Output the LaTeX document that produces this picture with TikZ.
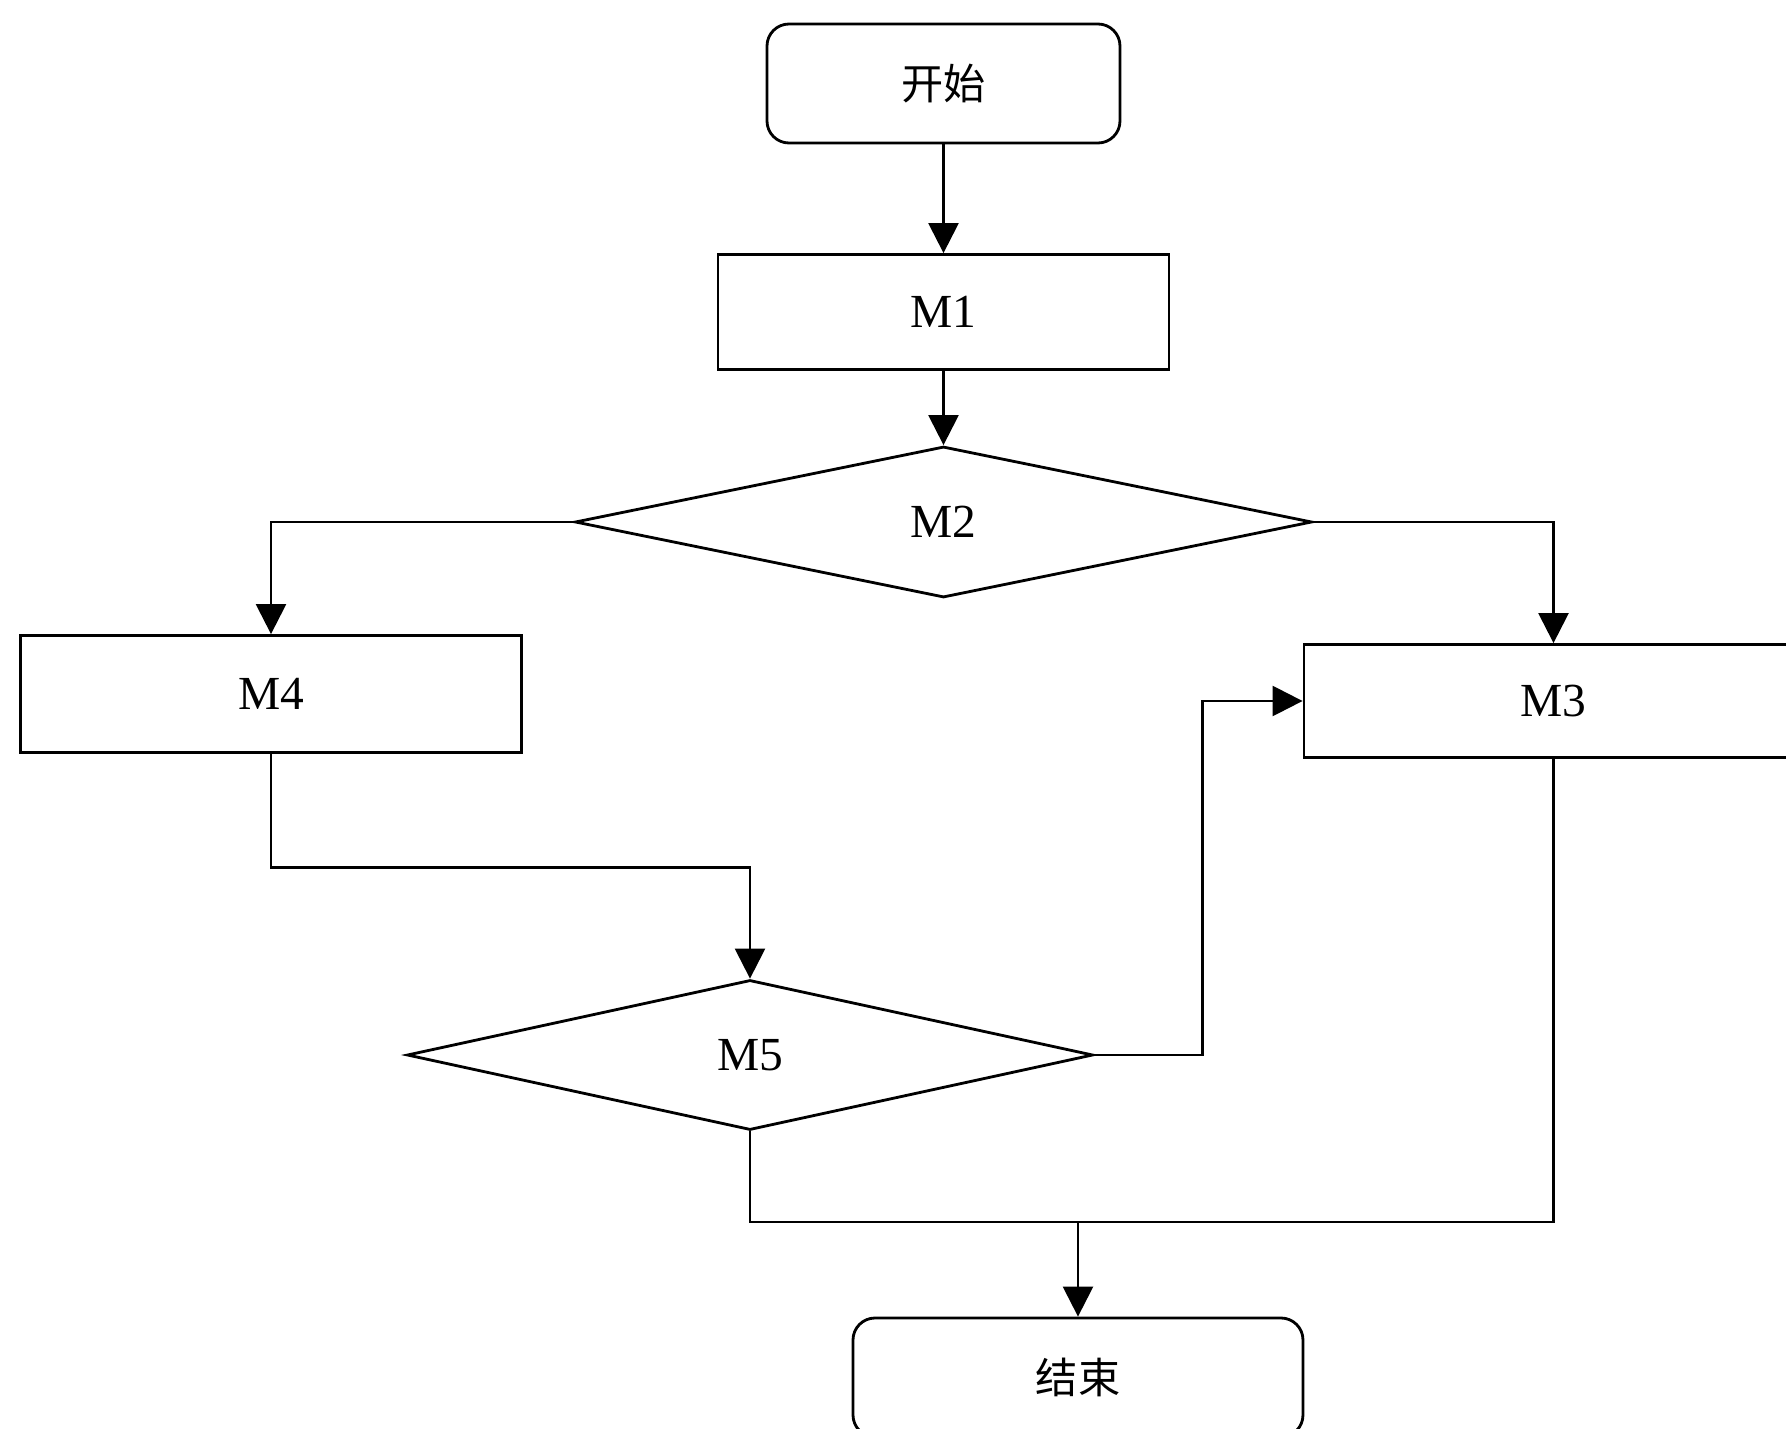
\documentclass[tikz,border=0pt]{standalone}
\usepackage{fontspec}
\setmainfont{Liberation Serif}
\newfontfamily\cjk{Noto Sans CJK SC}
\usepackage{tikz}
\usetikzlibrary{shapes.geometric,arrows.meta}
\tikzstyle{termbox}=[rectangle,rounded corners=2.2mm,draw=black,line width=0.8pt,
                     inner sep=0pt,font=\cjk\fontsize{12}{14}\selectfont]
\tikzstyle{procbox}=[rectangle,draw=black,line width=0.8pt,
                     inner sep=0pt,font=\fontsize{13.5}{16}\selectfont]
\tikzstyle{testbox}=[diamond,draw=black,line width=0.8pt,
                     inner sep=0pt,font=\fontsize{13.5}{16}\selectfont]
\tikzstyle{flowline}=[line width=0.7pt,-{Triangle[length=3mm,width=3mm]}]

\begin{document}
\begin{tikzpicture}
    \useasboundingbox (0,0) rectangle (17.86,-14.29);
    \node (st) at (9.435,-0.835) [termbox,minimum width=3.53cm,minimum height=1.19cm]{开始};
    \node (m1) at (9.435,-3.12) [procbox,minimum width=4.51cm,minimum height=1.15cm]{M1};
    \node (m2) at (9.435,-5.22) [testbox,minimum width=7.37cm,minimum height=1.51cm]{M2};
    \node (m4) at (2.71,-6.94) [procbox,minimum width=5.01cm,minimum height=1.17cm]{M4};
    \node (m3) at (15.535,-7.01) [procbox,minimum width=4.99cm,minimum height=1.13cm]{M3};
    \node (m5) at (7.50,-10.55) [testbox,minimum width=6.86cm,minimum height=1.5cm]{M5};
    \node (en) at (10.78,-13.775) [termbox,minimum width=4.5cm,minimum height=1.19cm]{结束};
    \coordinate (jn) at (10.78,-12.22);
    \draw[flowline] (st) -- (m1);
    \draw[flowline] (m1) -- (m2);
    \draw[flowline] (m2.west) -| (m4.north);
    \draw[flowline] (m2.east) -| (m3.north);
    \draw[flowline] (m4.south) -- ++(0,-1.135) -| (m5.north);
    \draw[flowline] (m5.east) -- ++(1.08,0) |- (m3.west);
    \draw[line width=0.7pt] (m5.south) |- (jn) -| (m3.south);
    \draw[flowline] (jn) -- (en);
  \end{tikzpicture}
\end{document}
